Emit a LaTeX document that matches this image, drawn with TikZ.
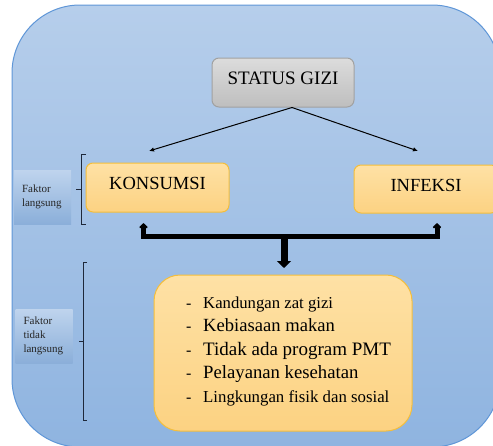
\documentclass[tikz,border=0pt]{standalone}
\usepackage{fontspec}
\setmainfont{Liberation Serif}
\usepackage{xcolor}
\usepackage{tikz}
\usetikzlibrary{arrows.meta}
\usetikzlibrary{shapes}

\definecolor{latarA}{RGB}{182,206,235}
\definecolor{latarB}{RGB}{143,180,224}
\definecolor{tepi}{RGB}{95,150,215}
\definecolor{oranyeA}{RGB}{254,225,165}
\definecolor{oranyeB}{RGB}{252,210,130}
\definecolor{emas}{RGB}{244,190,60}
\definecolor{abuA}{RGB}{220,220,220}
\definecolor{abuB}{RGB}{190,190,190}
\definecolor{kurungwarna}{RGB}{30,40,58}

\tikzset{
    kotak/.style={draw=emas, line width=1pt, top color=oranyeA, bottom color=oranyeB,
        rounded corners=7pt, text depth=8pt, font=\fontsize{18.5}{20}\selectfont},
    kotakabu/.style={kotak, draw=abuB!85!black, top color=abuA, bottom color=abuB,
        font=\fontsize{19}{20}\selectfont},
    catatan/.style={top color=latarA!88!white, bottom color=latarB!97!black,
        minimum width=57pt, minimum height=54pt, text width=41pt, inner xsep=8pt,
        align=left, font=\fontsize{11}{14}\selectfont, text=black!85},
    kurung/.style={draw=kurungwarna, line width=1pt},
}

\begin{document}
\begin{tikzpicture}[x=1pt,y=-1pt]
    \useasboundingbox (0,0) rectangle (493,445);
    \clip (0,0) rectangle (493,445);

    % latar belakang
    \draw[draw=tepi, line width=1pt, top color=latarA, bottom color=latarB,
        rounded corners=68pt] (12,5) rectangle (500,447);

    % kotak utama
    \node[kotakabu, minimum width=142pt, minimum height=49pt] (status) at (283,82.5) {STATUS GIZI};
    \node[kotak, minimum width=143pt, minimum height=49pt] (konsumsi) at (157.5,187.5) {KONSUMSI};
    \node[kotak, minimum width=144pt, minimum height=48pt] (infeksi) at (426,189) {INFEKSI};
    \node[kotak, minimum width=258pt, minimum height=156pt, rounded corners=26pt] (faktor) at (283,353) {};

    % isi faktor tidak langsung
    \foreach \yy/\uk/\isi [count=\n] in {308/16.7/Kandungan zat gizi,
            331/18.6/Kebiasaan makan,
            355/19/Tidak ada program PMT,
            378/18.7/Pelayanan kesehatan,
            402/16.8/Lingkungan fisik dan sosial}{
        \node[anchor=base west, inner sep=0pt, font=\fontsize{16}{16}\selectfont] (tanda\n) at (186,\yy) {-};
        \node[anchor=base west, inner sep=0pt, font=\fontsize{\uk}{\uk}\selectfont] (butir\n) at (203,\yy) {\isi};
    }

    % panah tipis
    \coordinate (ujungkiri) at (149,151);
    \coordinate (ujungkanan) at (418,151);
    \draw[line width=1pt, -{Latex[length=5pt,width=4.5pt]}] ([xshift=9pt]status.south) -- (ujungkiri);
    \draw[line width=1pt, -{Latex[length=5pt,width=4.5pt]}] ([xshift=9pt]status.south) -- (ujungkanan);

    % panah tebal
    \coordinate (kiriatas) at (143.5,223);
    \coordinate (kiri) at (143.5,236);
    \coordinate (kanan) at (437,236);
    \coordinate (kananatas) at (437,223);
    \coordinate (pusat) at (284,234);
    \coordinate (bawah) at (284,268);
    \draw[line width=5pt, miter limit=2,
        {Triangle[width=10pt,length=5pt]}-{Triangle[width=10pt,length=5pt]}]
        (kiriatas) -- (kiri) -- (kanan) -- (kananatas);
    \draw[line width=7pt, -{Triangle[width=14pt,length=7pt]}] (pusat) -- (bawah);

    % keterangan
    \node[catatan] (langsung) at (42.5,197) {Faktor\\langsung};
    \node[catatan] (tidaklangsung) at (44,336) {Faktor\\tidak\\langsung};

    \draw[kurung] (86,154) -- (81,154) -- (81,224) -- (86,224);
    \draw[kurung] (81,189) -- (76,189);
    \draw[kurung] (87,262) -- (83,262) -- (83,420) -- (87,420);
    \draw[kurung] (83,341) -- (79,341);
\end{tikzpicture}
\end{document}
